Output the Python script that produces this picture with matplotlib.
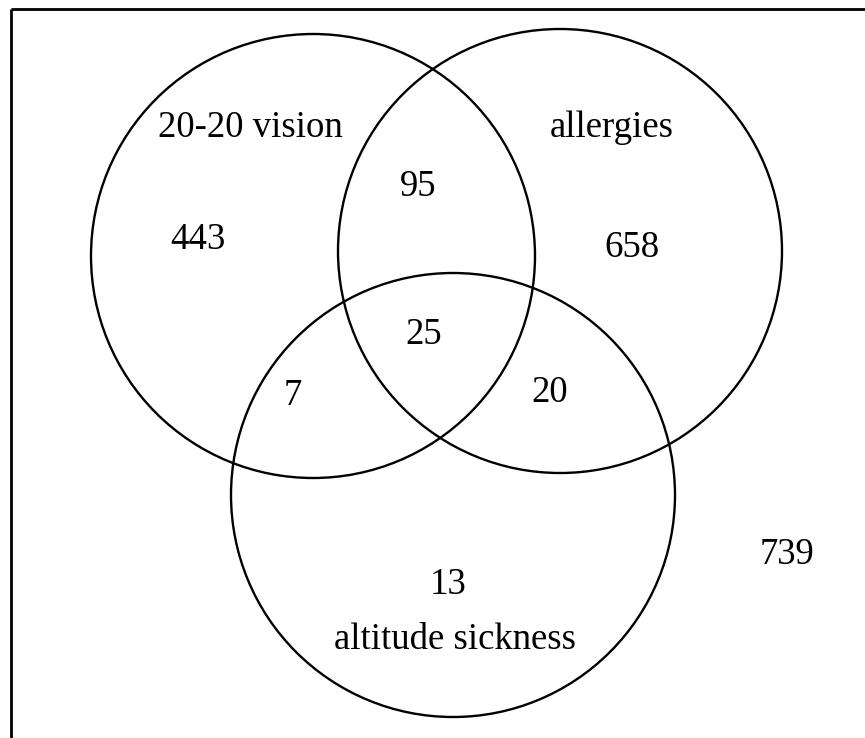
import matplotlib
matplotlib.use("Agg")
import matplotlib.pyplot as plt
from matplotlib.patches import Circle

# Set names and region counts
set_names = ["20-20 vision", "allergies", "altitude sickness"]
only_vision = 443
only_allergies = 658
only_altitude = 13
vision_allergies = 95
vision_altitude = 7
allergies_altitude = 20
all_three = 25
none = 739

# Layout in pixel coordinates (y down)
centers = [(313, 256), (560, 251), (453, 495)]
radius = 222
name_pos = [(250, 128), (612, 128), (455, 640)]
count_pos = [
    (only_vision, (198, 240)),
    (only_allergies, (632, 248)),
    (only_altitude, (448, 585)),
    (vision_allergies, (418, 187)),
    (vision_altitude, (293, 396)),
    (allergies_altitude, (550, 393)),
    (all_three, (424, 335)),
    (none, (787, 555)),
]

fig = plt.figure(figsize=(8.65, 7.38), dpi=100)
ax = fig.add_axes([0, 0, 1, 1])
ax.set_xlim(0, 865)
ax.set_ylim(738, 0)
ax.set_aspect("equal")
ax.axis("off")

# border: only top and left edges visible
ax.plot([11, 865], [9, 9], color="black", lw=2.0, solid_capstyle="butt")
ax.plot([11, 11], [9, 738], color="black", lw=2.0, solid_capstyle="butt")

for c in centers:
    ax.add_patch(Circle(c, radius, fill=False, edgecolor="black", lw=1.7))

font = dict(family="Liberation Serif", fontsize=26.5, ha="center", va="center")
for name, pos in zip(set_names, name_pos):
    ax.text(pos[0], pos[1], name, **font)
for val, pos in count_pos:
    ax.text(pos[0], pos[1], str(val), **font)

fig.savefig("out.png", dpi=100)
